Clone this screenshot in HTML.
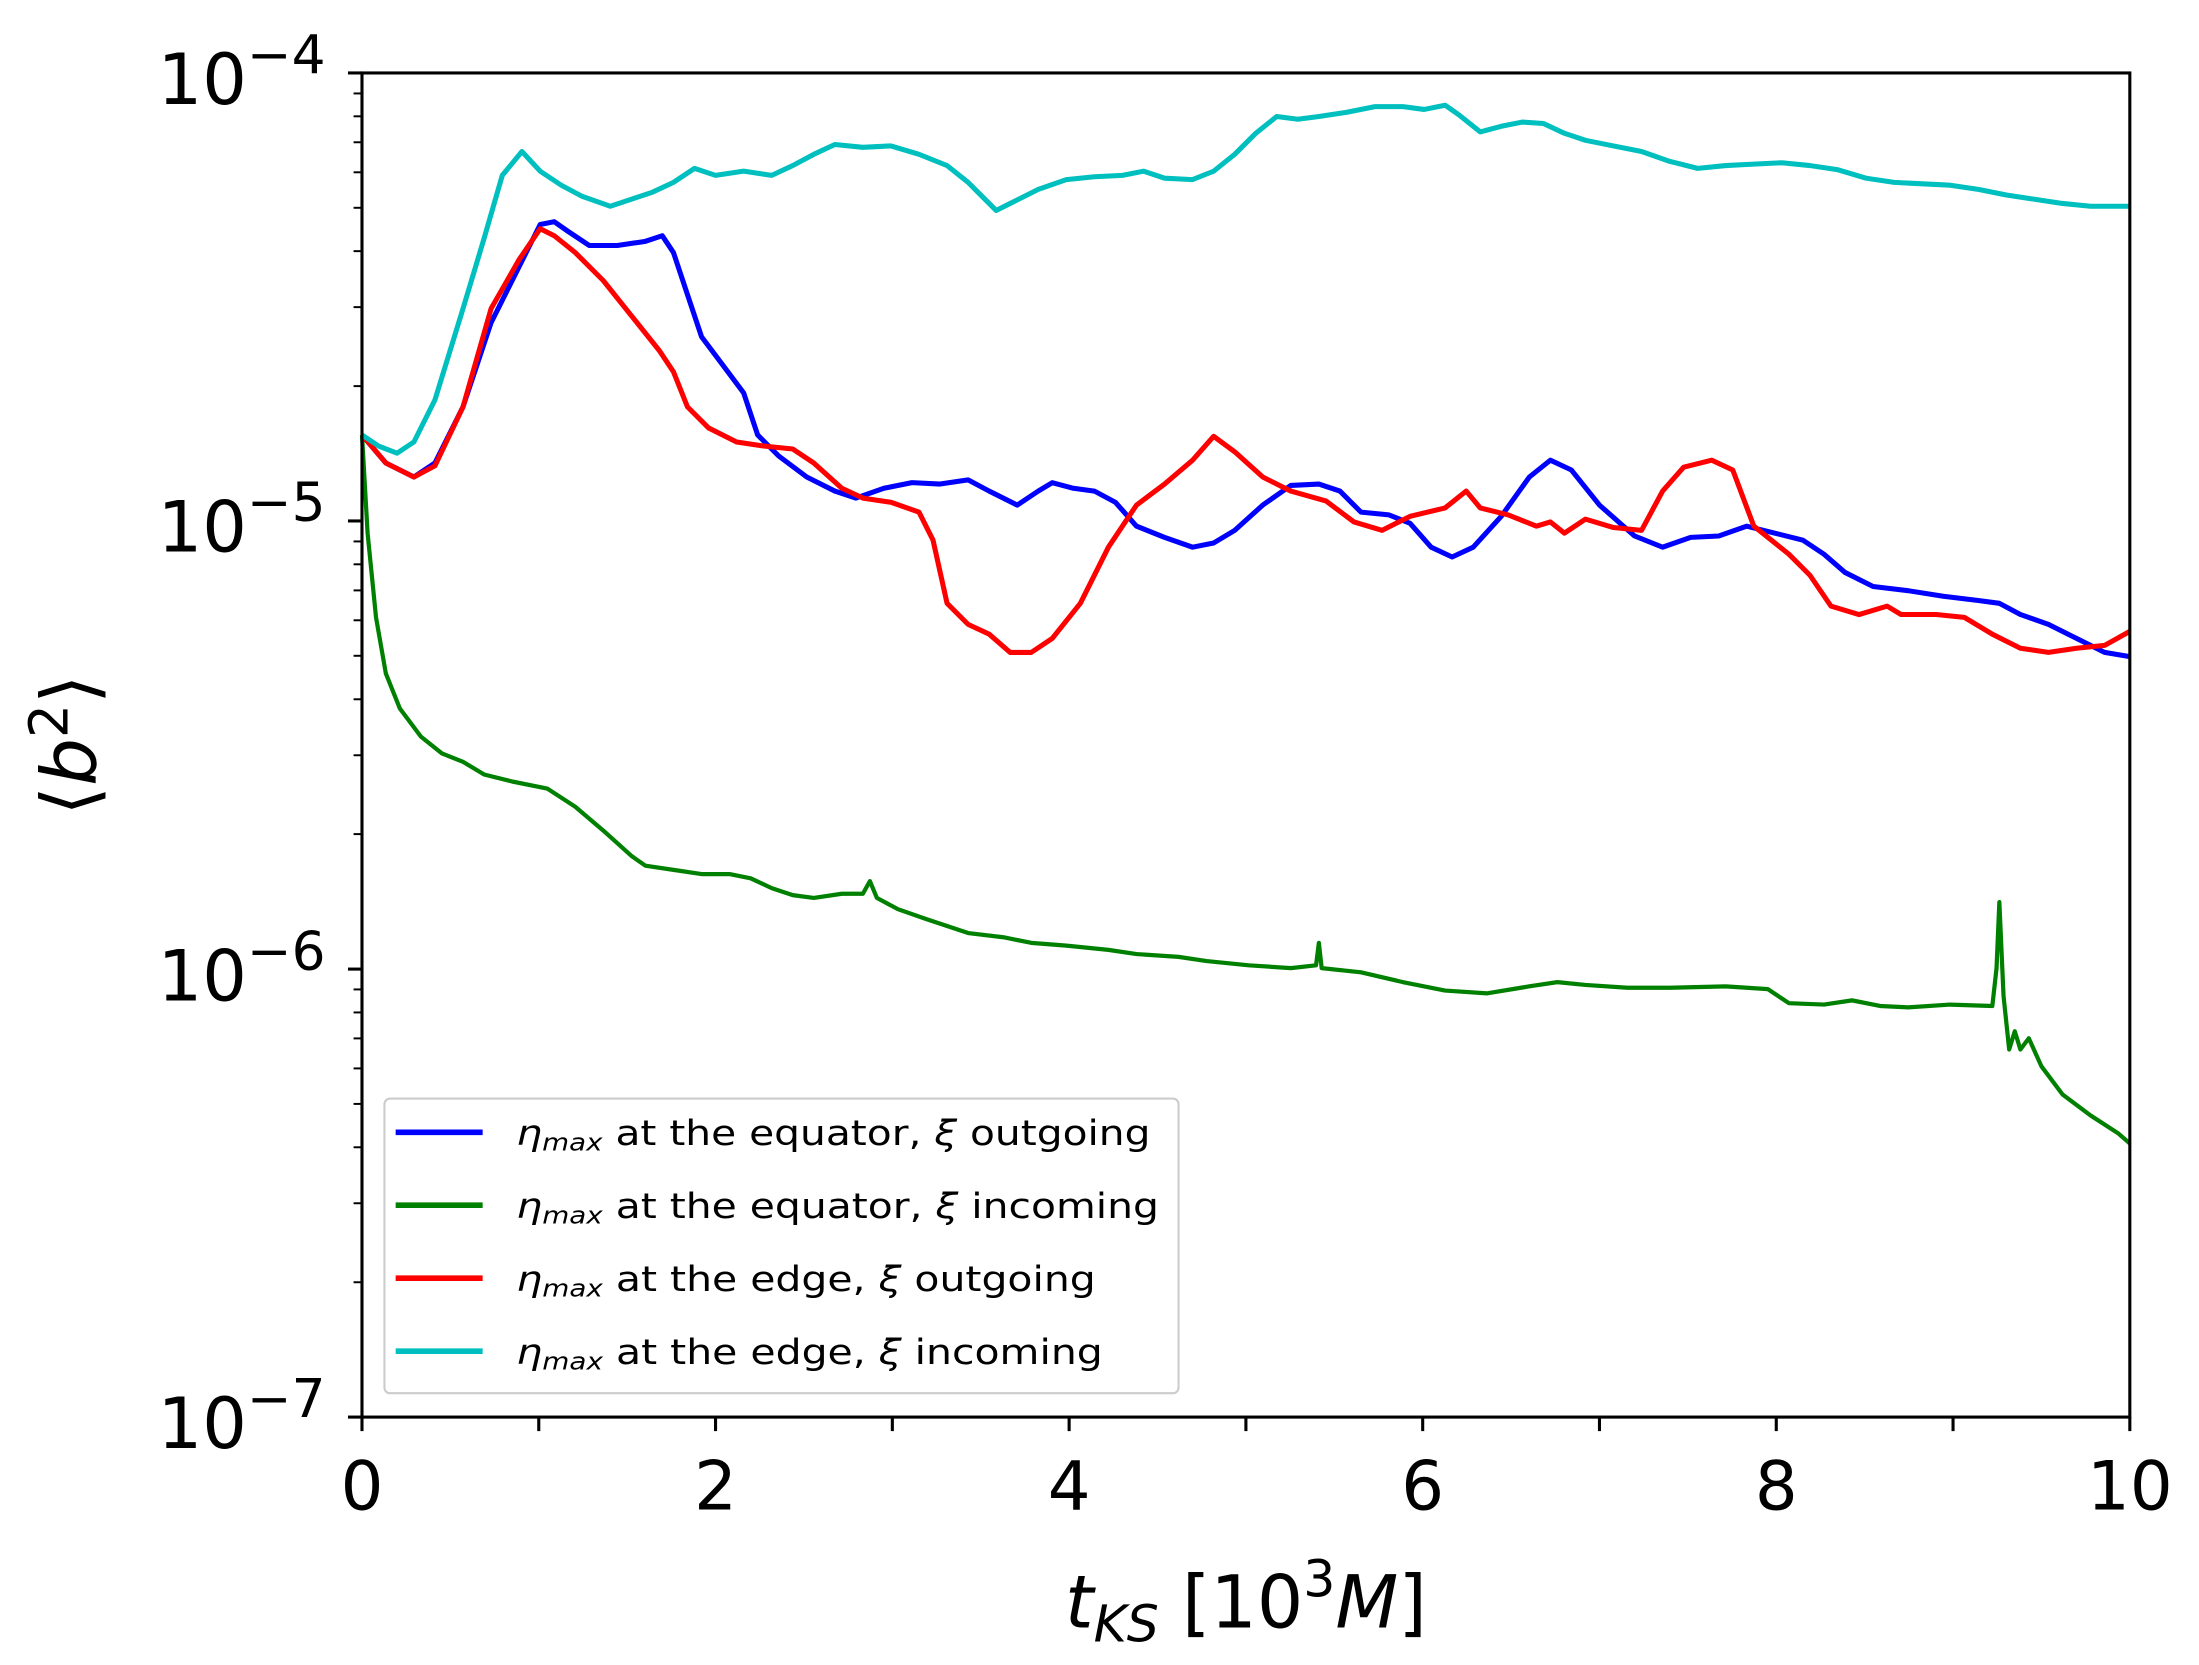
<!DOCTYPE html>
<html><head><meta charset="utf-8"><style>
html,body{margin:0;padding:0;background:#fff;}
svg{display:block;}
text{font-family:"DejaVu Sans","Liberation Sans",sans-serif;fill:#000;}
</style></head><body>
<svg width="2199" height="1665" viewBox="0 0 1567.3 1186.7" xmlns="http://www.w3.org/2000/svg">
<rect width="1567.3" height="1186.7" fill="#fff"/>
<g fill="none" stroke-width="3.6" stroke-linejoin="round">
<polyline stroke="#0000ff" points="258,310 275,330 295,340 310,330 330,290 350,230 370,190 385,160 395,158 405,165 420,175 440,175 460,172 472,168 480,180 490,210 500,240 515,260 530,280 540,310 555,325 575,340 595,350 610,355 630,348 650,344 670,345 690,342 705,350 725,360 740,350 750,344 765,348 780,350 795,358 810,375 830,383 850,390 865,387 880,378 900,360 920,346 940,345 955,350 970,365 990,367 1005,373 1020,390 1035,397 1050,390 1070,368 1090,340 1105,328 1120,335 1140,360 1165,382 1185,390 1205,383 1225,382 1245,375 1265,380 1285,385 1300,395 1315,408 1335,418 1360,421 1385,425 1410,428 1425,430 1440,438 1460,445 1480,455 1500,465 1518,468"/>
<polyline stroke="#008000" stroke-width="3" points="258,310 262,380 268,440 275,480 285,505 300,525 315,537 330,543 345,552 365,557 390,562 410,575 430,592 450,610 460,617 480,620 500,623 520,623 535,626 550,633 565,638 580,640 600,637 615,637 620,628 625,640 640,648 660,655 690,665 715,668 735,672 760,674 790,677 810,680 840,682 860,685 890,688 920,690 938,688 940,672 942,690 970,693 1000,700 1030,706 1060,708 1090,703 1110,700 1130,702 1160,704 1190,704 1230,703 1260,705 1275,715 1300,716 1320,713 1340,717 1360,718 1390,716 1420,717 1423,690 1425,643 1428,710 1432,748 1436,735 1440,748 1446,740 1455,760 1470,780 1490,795 1510,808 1518,815"/>
<polyline stroke="#ff0000" points="258,310 275,330 295,340 310,332 330,290 350,220 370,185 385,163 395,168 410,180 430,200 450,225 470,250 480,265 490,290 505,305 525,315 545,318 565,320 580,330 600,348 615,355 635,358 655,365 665,385 675,430 690,445 705,452 720,465 735,465 750,455 770,430 790,390 810,360 830,345 850,328 865,311 880,322 900,340 920,350 945,357 965,372 985,378 1005,368 1030,362 1045,350 1055,362 1075,367 1095,375 1105,372 1115,380 1130,370 1150,376 1170,378 1185,350 1200,333 1220,328 1235,335 1250,375 1275,395 1290,410 1305,432 1325,438 1345,432 1355,438 1380,438 1400,440 1420,452 1440,462 1460,465 1480,462 1500,460 1518,450"/>
<polyline stroke="#00bfbf" points="258,310 270,318 283,323 295,315 310,285 330,220 345,170 358,125 372,108 385,122 400,132 415,140 435,147 450,142 465,137 480,130 495,120 510,125 530,122 550,125 565,118 580,110 595,103 615,105 635,104 655,110 675,118 690,130 700,140 710,150 720,145 740,135 760,128 780,126 800,125 815,122 830,127 850,128 865,122 880,110 895,95 910,83 925,85 940,83 960,80 980,76 1000,76 1015,78 1030,75 1040,82 1055,94 1070,90 1085,87 1100,88 1115,95 1130,100 1150,104 1170,108 1190,115 1210,120 1230,118 1250,117 1270,116 1290,118 1310,121 1330,127 1350,130 1370,131 1390,132 1410,135 1430,139 1450,142 1470,145 1490,147 1518,147"/>
</g>
<!-- legend -->
<rect x="274" y="783" width="566" height="210" rx="4" fill="#fff" fill-opacity="0.8" stroke="#ccc" stroke-width="1.5"/>
<g stroke-width="4">
<line x1="282" y1="807" x2="344" y2="807" stroke="#0000ff"/>
<line x1="282" y1="859" x2="344" y2="859" stroke="#008000"/>
<line x1="282" y1="911" x2="344" y2="911" stroke="#ff0000"/>
<line x1="282" y1="963" x2="344" y2="963" stroke="#00bfbf"/>
</g>
<g font-size="25">
<text x="368" y="816" textLength="452" lengthAdjust="spacingAndGlyphs"><tspan font-style="italic">η</tspan><tspan font-size="17" font-style="italic" dy="4">max</tspan><tspan dy="-4"> at the equator, </tspan><tspan font-style="italic">ξ</tspan> outgoing</text>
<text x="368" y="868" textLength="458" lengthAdjust="spacingAndGlyphs"><tspan font-style="italic">η</tspan><tspan font-size="17" font-style="italic" dy="4">max</tspan><tspan dy="-4"> at the equator, </tspan><tspan font-style="italic">ξ</tspan> incoming</text>
<text x="368" y="920" textLength="413" lengthAdjust="spacingAndGlyphs"><tspan font-style="italic">η</tspan><tspan font-size="17" font-style="italic" dy="4">max</tspan><tspan dy="-4"> at the edge, </tspan><tspan font-style="italic">ξ</tspan> outgoing</text>
<text x="368" y="972" textLength="418" lengthAdjust="spacingAndGlyphs"><tspan font-style="italic">η</tspan><tspan font-size="17" font-style="italic" dy="4">max</tspan><tspan dy="-4"> at the edge, </tspan><tspan font-style="italic">ξ</tspan> incoming</text>
</g>
<!-- axes frame -->
<rect x="258" y="52" width="1260" height="958" fill="none" stroke="#000" stroke-width="2.2"/>
<g stroke="#000" stroke-width="2.2">
<line x1="258" y1="1010" x2="258" y2="1020"/><line x1="384" y1="1010" x2="384" y2="1020"/><line x1="510" y1="1010" x2="510" y2="1020"/><line x1="636" y1="1010" x2="636" y2="1020"/><line x1="762" y1="1010" x2="762" y2="1020"/><line x1="888" y1="1010" x2="888" y2="1020"/><line x1="1014" y1="1010" x2="1014" y2="1020"/><line x1="1140" y1="1010" x2="1140" y2="1020"/><line x1="1266" y1="1010" x2="1266" y2="1020"/><line x1="1392" y1="1010" x2="1392" y2="1020"/><line x1="1518" y1="1010" x2="1518" y2="1020"/>
<line x1="248" y1="52" x2="258" y2="52"/><line x1="248" y1="371.3" x2="258" y2="371.3"/><line x1="248" y1="690.7" x2="258" y2="690.7"/><line x1="248" y1="1010" x2="258" y2="1010"/>
</g>
<g stroke="#000" stroke-width="1.4">
<line x1="252" y1="275.2" x2="258" y2="275.2"/><line x1="252" y1="218.9" x2="258" y2="218.9"/><line x1="252" y1="179.0" x2="258" y2="179.0"/><line x1="252" y1="148.1" x2="258" y2="148.1"/><line x1="252" y1="122.8" x2="258" y2="122.8"/><line x1="252" y1="101.4" x2="258" y2="101.4"/><line x1="252" y1="82.9" x2="258" y2="82.9"/><line x1="252" y1="66.6" x2="258" y2="66.6"/>
<line x1="252" y1="594.5" x2="258" y2="594.5"/><line x1="252" y1="538.3" x2="258" y2="538.3"/><line x1="252" y1="498.4" x2="258" y2="498.4"/><line x1="252" y1="467.4" x2="258" y2="467.4"/><line x1="252" y1="442.1" x2="258" y2="442.1"/><line x1="252" y1="420.8" x2="258" y2="420.8"/><line x1="252" y1="402.2" x2="258" y2="402.2"/><line x1="252" y1="385.9" x2="258" y2="385.9"/>
<line x1="252" y1="913.9" x2="258" y2="913.9"/><line x1="252" y1="857.6" x2="258" y2="857.6"/><line x1="252" y1="817.7" x2="258" y2="817.7"/><line x1="252" y1="786.8" x2="258" y2="786.8"/><line x1="252" y1="761.5" x2="258" y2="761.5"/><line x1="252" y1="740.1" x2="258" y2="740.1"/><line x1="252" y1="721.6" x2="258" y2="721.6"/><line x1="252" y1="705.2" x2="258" y2="705.2"/>
</g>
<g font-size="48" text-anchor="middle">
<text x="258" y="1076">0</text><text x="510" y="1076">2</text><text x="762" y="1076">4</text><text x="1014" y="1076">6</text><text x="1266" y="1076">8</text><text x="1518" y="1076">10</text>
</g>
<g font-size="50" text-anchor="end">
<text x="232" y="74">10<tspan font-size="38" dy="-22">−4</tspan></text>
<text x="232" y="393">10<tspan font-size="38" dy="-22">−5</tspan></text>
<text x="232" y="713">10<tspan font-size="38" dy="-22">−6</tspan></text>
<text x="232" y="1032">10<tspan font-size="38" dy="-22">−7</tspan></text>
</g>
<text x="888" y="1160" font-size="52" text-anchor="middle"><tspan font-style="italic">t</tspan><tspan font-style="italic" font-size="36" dy="10">KS</tspan><tspan dy="-10"> [10</tspan><tspan font-size="36" dy="-22">3</tspan><tspan dy="22" font-style="italic">M</tspan>]</text>
<text transform="translate(68,531) rotate(-90)" font-size="54" text-anchor="middle">⟨<tspan font-style="italic">b</tspan><tspan font-size="38" dy="-20">2</tspan><tspan dy="20">⟩</tspan></text>
</svg>
</body></html>
